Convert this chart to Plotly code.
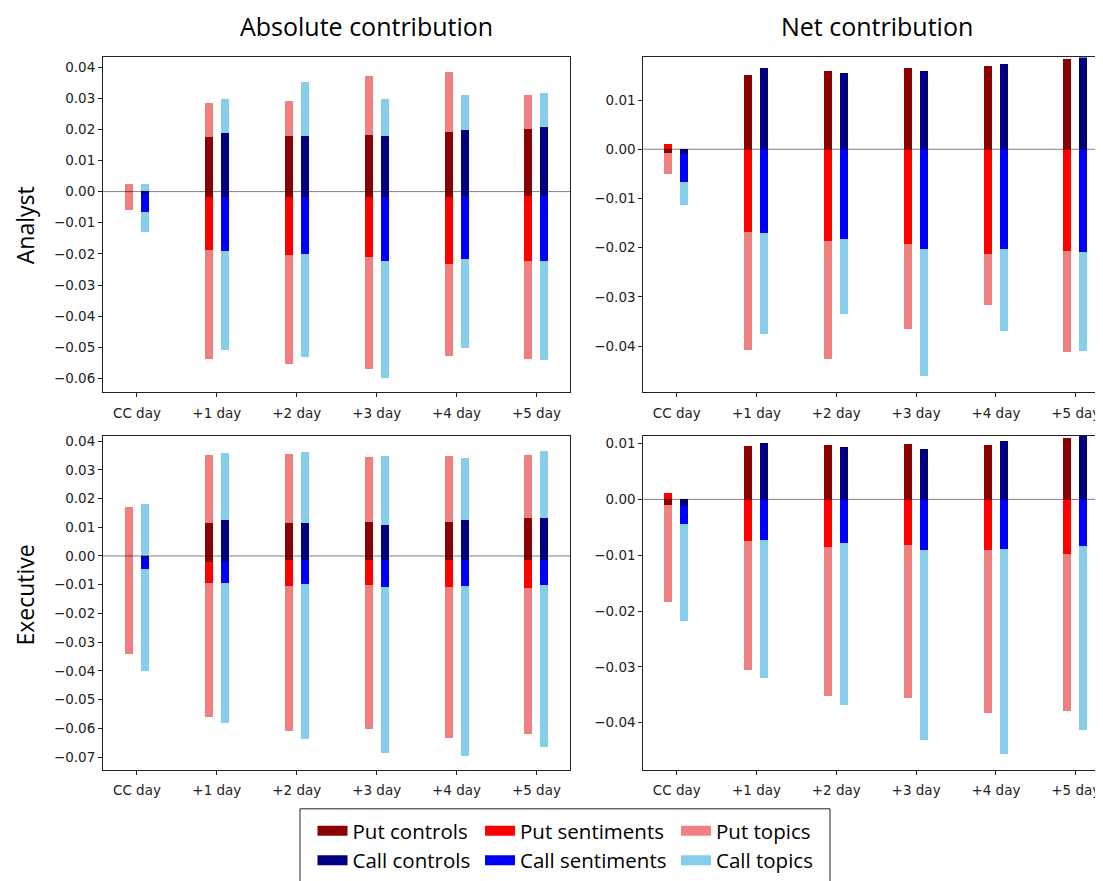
import plotly.graph_objects as go

# ---------------- data ----------------
categories = ["CC day", "+1 day", "+2 day", "+3 day", "+4 day", "+5 day"]

# Absolute contribution - Analyst (positive / negative parts, stacked)
abs_an_put_controls_pos = [0.0, 0.0174, 0.0178, 0.0181, 0.0191, 0.0201]
abs_an_put_controls_neg = [0.0, -0.0018, -0.0018, -0.0018, -0.0018, -0.0014]
abs_an_put_sent_pos = [0.0, 0.0, 0.0, 0.0, 0.0, 0.0]
abs_an_put_sent_neg = [0.0, -0.0171, -0.0187, -0.0194, -0.0215, -0.0211]
abs_an_put_topics_pos = [0.0022, 0.0109, 0.0112, 0.0189, 0.0192, 0.0109]
abs_an_put_topics_neg = [-0.0060, -0.0350, -0.0350, -0.0358, -0.0297, -0.0315]

abs_an_call_controls_pos = [0.0, 0.0188, 0.0178, 0.0178, 0.0195, 0.0205]
abs_an_call_controls_neg = [-0.0010, -0.0020, -0.0018, -0.0018, -0.0014, -0.0014]
abs_an_call_sent_pos = [0.0, 0.0, 0.0, 0.0, 0.0, 0.0]
abs_an_call_sent_neg = [-0.0057, -0.0172, -0.0184, -0.0205, -0.0205, -0.0211]
abs_an_call_topics_pos = [0.0022, 0.0108, 0.0174, 0.0118, 0.0115, 0.0111]
abs_an_call_topics_neg = [-0.0065, -0.0318, -0.0331, -0.0377, -0.0284, -0.0318]

# Absolute contribution - Executive
abs_ex_put_controls_pos = [0.0, 0.0115, 0.0115, 0.0120, 0.0117, 0.0131]
abs_ex_put_controls_neg = [0.0, -0.0019, -0.0015, -0.0015, -0.0015, -0.0015]
abs_ex_put_sent_pos = [0.0, 0.0, 0.0, 0.0, 0.0, 0.0]
abs_ex_put_sent_neg = [0.0, -0.0076, -0.0090, -0.0087, -0.0094, -0.0097]
abs_ex_put_topics_pos = [0.0170, 0.0237, 0.0240, 0.0225, 0.0231, 0.0221]
abs_ex_put_topics_neg = [-0.0341, -0.0466, -0.0504, -0.0499, -0.0524, -0.0508]

abs_ex_call_controls_pos = [0.0, 0.0124, 0.0115, 0.0109, 0.0124, 0.0131]
abs_ex_call_controls_neg = [-0.0007, -0.0019, -0.0015, -0.0015, -0.0015, -0.0015]
abs_ex_call_sent_pos = [0.0, 0.0, 0.0, 0.0, 0.0, 0.0]
abs_ex_call_sent_neg = [-0.0037, -0.0076, -0.0082, -0.0094, -0.0090, -0.0087]
abs_ex_call_topics_pos = [0.0183, 0.0235, 0.0247, 0.0239, 0.0217, 0.0234]
abs_ex_call_topics_neg = [-0.0357, -0.0486, -0.0541, -0.0578, -0.0590, -0.0564]

# Net contribution - Analyst
net_an_put_controls = [-0.0009, 0.0151, 0.0159, 0.0164, 0.0169, 0.0182]
net_an_put_sent = [0.0009, -0.0168, -0.0187, -0.0193, -0.0214, -0.0207]
net_an_put_topics = [-0.0042, -0.0241, -0.0239, -0.0173, -0.0104, -0.0206]
net_an_call_controls = [-0.0011, 0.0164, 0.0155, 0.0159, 0.0173, 0.0195]
net_an_call_sent = [-0.0057, -0.0171, -0.0183, -0.0203, -0.0203, -0.0209]
net_an_call_topics = [-0.0046, -0.0205, -0.0153, -0.0258, -0.0167, -0.0202]

# Net contribution - Executive
net_ex_put_controls = [-0.0010, 0.0096, 0.0098, 0.0100, 0.0098, 0.0111]
net_ex_put_sent = [0.0011, -0.0074, -0.0085, -0.0082, -0.0091, -0.0097]
net_ex_put_topics = [-0.0173, -0.0232, -0.0267, -0.0273, -0.0292, -0.0282]
net_ex_call_controls = [-0.0012, 0.0101, 0.0094, 0.0090, 0.0105, 0.0120]
net_ex_call_sent = [-0.0031, -0.0072, -0.0078, -0.0090, -0.0088, -0.0084]
net_ex_call_topics = [-0.0174, -0.0248, -0.0290, -0.0340, -0.0368, -0.0329]

# tick labels
abs_an_ticks = [0.04, 0.03, 0.02, 0.01, 0.0, -0.01, -0.02, -0.03, -0.04, -0.05, -0.06]
abs_ex_ticks = [0.04, 0.03, 0.02, 0.01, 0.0, -0.01, -0.02, -0.03, -0.04, -0.05, -0.06, -0.07]
net_ticks = [0.01, 0.0, -0.01, -0.02, -0.03, -0.04]

series_names = ["Put controls", "Put sentiments", "Put topics",
                "Call controls", "Call sentiments", "Call topics"]
colors = {"Put controls": "#8B0000", "Put sentiments": "#FF0000", "Put topics": "#F08080",
          "Call controls": "#000080", "Call sentiments": "#0000FF", "Call topics": "#87CEEB"}

# ---------------- figure ----------------
fig = go.Figure()
idx = list(range(len(categories)))
BW = 0.1
offsets = {"Put": -0.1, "Call": 0.1}

panels = [
    ("x", "y", "Put", [("controls", abs_an_put_controls_pos), ("controls", abs_an_put_controls_neg),
                       ("sentiments", abs_an_put_sent_pos), ("sentiments", abs_an_put_sent_neg),
                       ("topics", abs_an_put_topics_pos), ("topics", abs_an_put_topics_neg)]),
    ("x", "y", "Call", [("controls", abs_an_call_controls_pos), ("controls", abs_an_call_controls_neg),
                        ("sentiments", abs_an_call_sent_pos), ("sentiments", abs_an_call_sent_neg),
                        ("topics", abs_an_call_topics_pos), ("topics", abs_an_call_topics_neg)]),
    ("x2", "y2", "Put", [("controls", net_an_put_controls), ("sentiments", net_an_put_sent),
                         ("topics", net_an_put_topics)]),
    ("x2", "y2", "Call", [("controls", net_an_call_controls), ("sentiments", net_an_call_sent),
                          ("topics", net_an_call_topics)]),
    ("x3", "y3", "Put", [("controls", abs_ex_put_controls_pos), ("controls", abs_ex_put_controls_neg),
                         ("sentiments", abs_ex_put_sent_pos), ("sentiments", abs_ex_put_sent_neg),
                         ("topics", abs_ex_put_topics_pos), ("topics", abs_ex_put_topics_neg)]),
    ("x3", "y3", "Call", [("controls", abs_ex_call_controls_pos), ("controls", abs_ex_call_controls_neg),
                          ("sentiments", abs_ex_call_sent_pos), ("sentiments", abs_ex_call_sent_neg),
                          ("topics", abs_ex_call_topics_pos), ("topics", abs_ex_call_topics_neg)]),
    ("x4", "y4", "Put", [("controls", net_ex_put_controls), ("sentiments", net_ex_put_sent),
                         ("topics", net_ex_put_topics)]),
    ("x4", "y4", "Call", [("controls", net_ex_call_controls), ("sentiments", net_ex_call_sent),
                          ("topics", net_ex_call_topics)]),
]

for xa, ya, side, comps in panels:
    xs = [i + offsets[side] for i in idx]
    for kind, vals in comps:
        name = f"{side} {kind}"
        fig.add_trace(go.Bar(
            x=xs, y=vals, width=BW, name=name,
            marker=dict(color=colors[name], line=dict(width=0)),
            xaxis=xa, yaxis=ya, showlegend=False,
        ))

# legend entries (wide patch swatches, like the reference), one legend per column
legend_of = {"controls": "legend", "sentiments": "legend2", "topics": "legend3"}
for name in series_names:
    fig.add_trace(go.Scatter(
        x=[None], y=[None], mode="lines", name=name,
        line=dict(color=colors[name], width=14.5),
        xaxis="x", yaxis="y", showlegend=True,
        legend=legend_of[name.split()[1]],
    ))

# page body has an 8px margin; figure covers page pixels 8..1103 x 8..881
OFF = 8
W, H = 1103 - OFF, 881 - OFF
def px_x(p):
    return (p - OFF) / W
def px_y(p):
    return 1 - (p - OFF) / H

tickfont = dict(family="DejaVu Sans", size=13.5, color="#222")
def fmt(v):
    s = f"{abs(v):.2f}"
    return ("\u2212" + s) if v < 0 else s

axis_common = dict(showline=True, linecolor="#222", linewidth=1, ticks="outside",
                   ticklen=4, tickwidth=1, tickcolor="#222", showgrid=False,
                   zeroline=False, tickfont=tickfont, ticklabeloverflow="allow")

left_dom = [px_x(103), px_x(570)]
right_dom = [px_x(643.3), 1.0]
top_dom = [px_y(394.3), px_y(55)]
bot_dom = [px_y(776.7), px_y(438.3)]

xcommon = dict(tickmode="array", tickvals=idx, ticktext=categories, ticklabelstandoff=4, **axis_common)

fig.update_layout(
    xaxis=dict(domain=left_dom, range=[-0.425, 5.42], mirror=True, anchor="y", **xcommon),
    yaxis=dict(domain=top_dom, range=[-0.0645, 0.0431], mirror=True, anchor="x",
               tickmode="array", tickvals=abs_an_ticks, ticktext=[fmt(v) for v in abs_an_ticks], **axis_common),
    xaxis2=dict(domain=right_dom, range=[-0.419, 5.342], mirror=True, anchor="y2", **xcommon),
    yaxis2=dict(domain=top_dom, range=[-0.0494, 0.01866], mirror=False, anchor="x2",
                tickmode="array", tickvals=net_ticks, ticktext=[fmt(v) for v in net_ticks], **axis_common),
    xaxis3=dict(domain=left_dom, range=[-0.425, 5.42], mirror=True, anchor="y3", **xcommon),
    yaxis3=dict(domain=bot_dom, range=[-0.0745, 0.0418], mirror=True, anchor="x3",
                tickmode="array", tickvals=abs_ex_ticks, ticktext=[fmt(v) for v in abs_ex_ticks], **axis_common),
    xaxis4=dict(domain=right_dom, range=[-0.419, 5.342], mirror=True, anchor="y4", **xcommon),
    yaxis4=dict(domain=bot_dom, range=[-0.04847, 0.01137], mirror=False, anchor="x4",
                tickmode="array", tickvals=net_ticks, ticktext=[fmt(v) for v in net_ticks], **axis_common),
)

# zero reference lines
for xa, ya in [("x", "y"), ("x2", "y2"), ("x3", "y3"), ("x4", "y4")]:
    fig.add_shape(type="line", xref=f"{xa} domain", yref=ya, x0=0, x1=1, y0=0, y1=0,
                  line=dict(color="rgba(0,0,0,0.5)", width=1), layer="above")

title_font = dict(family="Open Sans", size=25, color="black")
row_font = dict(family="Open Sans", size=23, color="black")
fig.add_annotation(text="Absolute contribution", x=px_x(366), y=px_y(23), xref="paper", yref="paper",
                   showarrow=False, font=title_font, xanchor="center", yanchor="middle")
fig.add_annotation(text="Net contribution", x=px_x(877), y=px_y(23), xref="paper", yref="paper",
                   showarrow=False, font=title_font, xanchor="center", yanchor="middle")
fig.add_annotation(text="Analyst", x=px_x(25), y=px_y(225), xref="paper", yref="paper",
                   showarrow=False, font=row_font, textangle=-90, xanchor="center", yanchor="middle")
fig.add_annotation(text="Executive", x=px_x(25), y=px_y(600), xref="paper", yref="paper",
                   showarrow=False, font=row_font, textangle=-90, xanchor="center", yanchor="middle")

# legend frame
fig.add_shape(type="rect", xref="paper", yref="paper", x0=px_x(300), x1=px_x(830),
              y0=px_y(900), y1=px_y(816), line=dict(color="#222", width=1), fillcolor="rgba(0,0,0,0)")

legend_font = dict(family="Open Sans", size=20.5, color="black")
leg_common = dict(orientation="v", xanchor="left", yanchor="middle", font=legend_font,
                  bgcolor="rgba(0,0,0,0)", traceorder="normal",
                  itemclick=False, itemdoubleclick=False, borderwidth=0, tracegroupgap=0)
LEG_Y = px_y(853.5)
fig.update_layout(
    width=W, height=H, margin=dict(l=0, r=0, t=0, b=0),
    plot_bgcolor="white", paper_bgcolor="white",
    barmode="relative", bargap=0,
    legend=dict(x=px_x(312.5), y=LEG_Y, **leg_common),
    legend2=dict(x=px_x(480), y=LEG_Y, **leg_common),
    legend3=dict(x=px_x(676), y=LEG_Y, **leg_common),
)

fig.write_html("out.html")
